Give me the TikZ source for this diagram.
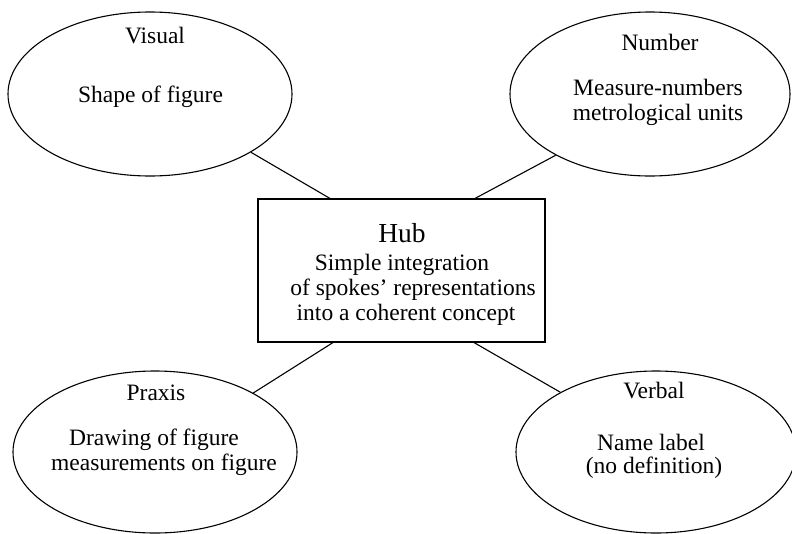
\documentclass[tikz,border=0pt]{standalone}
\usepackage{fontspec}
\setmainfont{Liberation Serif}
\usetikzlibrary{shapes.geometric,calc}
\tikzset{
  spoke/.style={ellipse, draw, line width=1.1pt, minimum width=284pt, minimum height=164pt, inner sep=0pt},
  hubbox/.style={rectangle, draw, line width=1.1pt, minimum width=287pt, minimum height=143pt, inner sep=0pt},
  txt/.style={font=\fontsize{23.5}{25}\selectfont, anchor=base, inner sep=0pt},
  bigtxt/.style={font=\fontsize{27.5}{30}\selectfont, anchor=base, inner sep=0pt},
  link/.style={line width=1.1pt}
}
\begin{document}
\begin{tikzpicture}[x=1pt,y=-1pt]
\useasboundingbox (0,0) rectangle (792,533);
% spokes
\node[spoke] (visual) at (150,94) {};
\node[spoke, minimum width=280pt] (number) at (650,94) {};
\node[spoke, minimum height=162pt] (praxis) at (155,452) {};
\node[spoke, minimum width=280pt, minimum height=162pt] (verbal) at (656,452) {};
% hub
\node[hubbox] (hub) at (401.5,270.5) {};
% texts
\node[txt] (tv1) at (155,43) {Visual};
\node[txt] (tv2) at (150.5,102) {Shape of figure};
\node[txt] (tn1) at (660,50) {Number};
\node[txt] (tn2) at (658,95) {Measure-numbers};
\node[txt] (tn3) at (658,120) {metrological units};
\node[txt] (tp1) at (156,400) {Praxis};
\node[txt] (tp2) at (154,445) {Drawing of figure};
\node[txt] (tp3) at (164,470) {measurements on figure};
\node[txt] (tb1) at (654,398) {Verbal};
\node[txt] (tb2) at (651,450) {Name label};
\node[txt] (tb3) at (654,473) {(no definition)};
\node[bigtxt] (th1) at (402,242) {Hub};
\node[txt] (th2) at (402,270) {Simple integration};
\node[txt] (th3) at (413,295) {of spokes’ representations};
\node[txt] (th4) at (406,320) {into a coherent concept};
% connectors
\draw[link] (visual.-30.5) -- ($(hub.north)+(-71.5,0)$);
\draw[link] (number.-147.7) -- ($(hub.north)+(73.5,0)$);
\draw[link] (praxis.31.7) -- ($(hub.south)+(-68.5,0)$);
\draw[link] (verbal.148.6) -- ($(hub.south)+(72.5,0)$);
\end{tikzpicture}
\end{document}
